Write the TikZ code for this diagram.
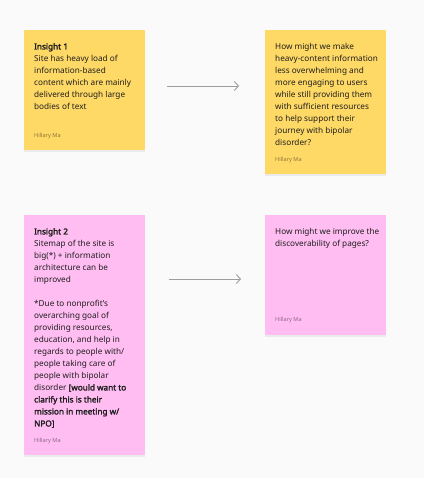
\documentclass[tikz,border=0pt]{standalone}
\usepackage{fontspec}
\setmainfont{Noto Sans}[BoldFont={Noto Sans}, BoldFeatures={FakeBold=2.2}]
\usetikzlibrary{arrows.meta,shadows}
\definecolor{bg}{HTML}{FAFAFA}
\definecolor{stickyY}{HTML}{FFD966}
\definecolor{stickyP}{HTML}{FFBDF2}
\definecolor{ink}{HTML}{1E1E1E}
\definecolor{arrowgray}{HTML}{9E9E9E}
\tikzset{
  sticky/.style={draw=none, inner sep=0pt, anchor=north west,
    drop shadow={opacity=0.12, shadow xshift=0pt, shadow yshift=-2pt}},
  body/.style={inner sep=0pt, anchor=north west, align=left, text=ink,
    font=\fontsize{8.2}{12}\selectfont},
  author/.style={inner sep=0pt, anchor=west, text=black, opacity=0.45,
    font=\fontsize{5.6}{7}\selectfont},
  flow/.style={draw=arrowgray, line width=0.9pt, -{Straight Barb[length=4pt,width=9pt,line width=0.9pt]}},
}
\begin{document}
\begin{tikzpicture}[x=1pt,y=-1pt]
\fill[bg] (0,0) rectangle (424,478);
\useasboundingbox (0,0) rectangle (424,478);
% stickies
\node[sticky, fill=stickyY, minimum width=121pt, minimum height=120pt] (s1) at (24,30) {};
\node[sticky, fill=stickyY, minimum width=121pt, minimum height=144pt] (s2) at (265,30) {};
\node[sticky, fill=stickyP, minimum width=121pt, minimum height=240pt] (s3) at (24,215) {};
\node[sticky, fill=stickyP, minimum width=121pt, minimum height=120pt] (s4) at (265,215) {};
% texts
\node[body] (t1) at (34,43) {\textbf{Insight 1}\\Site has heavy load of\\information-based\\content which are mainly\\delivered through large\\bodies of text};
\node[author] (a1) at (34,136) {Hillary Ma};
\node[body] (t2) at (275,43) {How might we make\\heavy-content information\\less overwhelming and\\more engaging to users\\while still providing them\\with sufficient resources\\to help support their\\journey with bipolar\\disorder?};
\node[author] (a2) at (275,160.5) {Hillary Ma};
\node[body] (t3) at (34,228) {\textbf{Insight 2}\\Sitemap of the site is\\big(*) + information\\architecture can be\\improved\\[12pt]*Due to nonprofit's\\overarching goal of\\providing resources,\\education, and help in\\regards to people with/\\people taking care of\\people with bipolar\\disorder \textbf{[would want to}\\\textbf{clarify this is their}\\\textbf{mission in meeting w/}\\\textbf{NPO]}};
\node[author] (a3) at (34,441) {Hillary Ma};
\node[body] (t4) at (275,228) {How might we improve the\\discoverability of pages?};
\node[author] (a4) at (275,320.5) {Hillary Ma};
% arrows
\coordinate (c1s) at (167,86);
\coordinate (c1e) at (239,86);
\coordinate (c2s) at (169,279);
\coordinate (c2e) at (241,279);
\draw[flow] (c1s) -- (c1e);
\draw[flow] (c2s) -- (c2e);
\end{tikzpicture}
\end{document}
